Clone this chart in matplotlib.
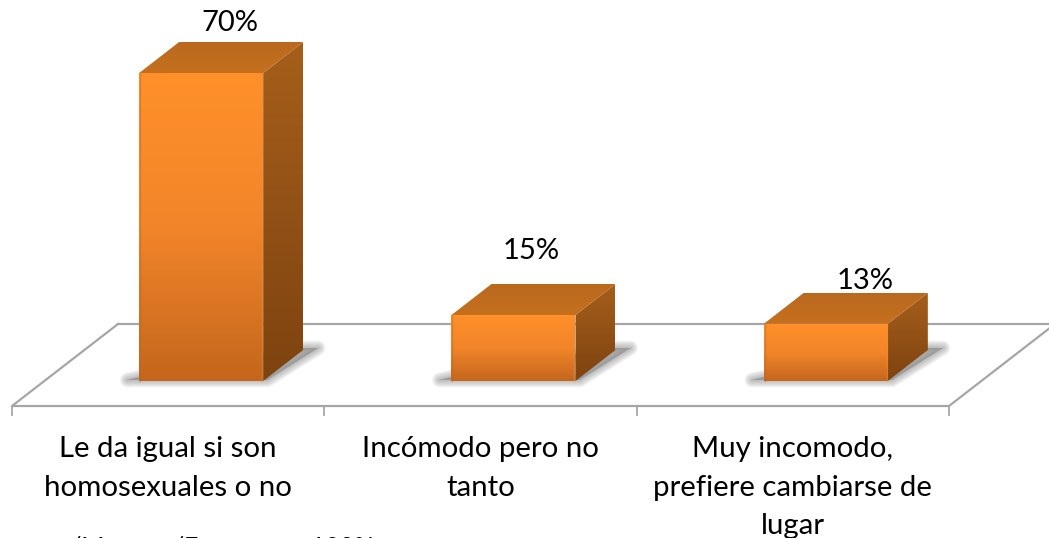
import numpy as np
import matplotlib
matplotlib.use("Agg")
import matplotlib.pyplot as plt
from matplotlib.colors import LinearSegmentedColormap
from matplotlib.patches import Polygon

categories = ["Le da igual si son\nhomosexuales o no", "Incómodo pero no\ntanto", "Muy incomodo,\nprefiere cambiarse de\nlugar"]
values = [70, 15, 13]
value_labels = ["70%", "15%", "13%"]
footnote = "/Muestra/Encuesta = 100%"

W, H = 1049, 538
PX = 312.33          # pixels per category
PY = 4.4             # pixels per percent
X0, Y0 = 12, 381     # pixel of category edge 0 / value 0

plt.rcParams['font.family'] = ['Lato', 'DejaVu Sans']
fig = plt.figure(figsize=(W/100, H/100), dpi=100)
ax = fig.add_axes([0, 0, 1, 1])
ax.set_xlim(-X0/PX, (W-X0)/PX)
ax.set_ylim((Y0-H)/PY, Y0/PY)
ax.axis('off')

dx = lambda p: p/PX
dy = lambda p: p/PY

# floor
grey = '#a6a6a6'
fy = dy(-25)
bx, by = dx(106), dy(57)
ax.plot([bx, 0, 3, 3+bx*0.94], [by, fy, fy, fy+(by-fy)*0.94], color=grey, lw=1.6, zorder=1, solid_joinstyle='miter')
ax.plot([bx, 3+bx], [by, by], color=grey, lw=1.6, zorder=1)
for i in range(4):
    ax.plot([i, i], [fy, fy-dy(9)], color=grey, lw=1.3, zorder=1)

front_cm = LinearSegmentedColormap.from_list('f', ['#FF9029', '#F2852A', '#C4661C'])
side_cm = LinearSegmentedColormap.from_list('s', ['#A65F1B', '#7E4310'])
top_cm = LinearSegmentedColormap.from_list('t', ['#B9691E', '#C6701F'])

def grad(poly, cm, z=3):
    p = Polygon(poly, closed=True, fc='none', ec='none', transform=ax.transData)
    ax.add_patch(p)
    xs, ys = zip(*poly)
    g = np.linspace(0, 1, 256).reshape(-1, 1)
    im = ax.imshow(g, cmap=cm, aspect='auto', extent=[min(xs), max(xs), min(ys), max(ys)],
                   origin='upper', zorder=z, interpolation='bilinear')
    im.set_clip_path(p)

w = dx(124)
ddx, ddy = dx(40), dy(31)
label_xoff = [29, 18, 39]       # pixels right of the bar's centre
label_yoff = [50, 64, 43]       # pixels above the front top edge
for i, v in enumerate(values):
    c = i + 0.5 + dx(33)
    l, r = c - w/2, c + w/2
    sh = [(l-dx(12), dy(1)), (r+dx(4), dy(1)), (r+ddx+dx(15), ddy+dy(2)), (r+ddx, ddy+dy(2)), (l, dy(4))]
    for k in range(12, -1, -1):
        ax.add_patch(Polygon(sh, closed=True, fc='#808080', ec='#808080', lw=k*0.9+0.1, alpha=0.05,
                             zorder=2, joinstyle='round'))
    grad([(l, 0), (r, 0), (r, v), (l, v)], front_cm)
    ax.plot([r-dx(1), r-dx(1)], [0, v], color='#E8963E', lw=1, alpha=.4, zorder=4)
    ax.plot([l+dx(1), l+dx(1)], [0, v], color='#B8651E', lw=1, alpha=.4, zorder=4)
    grad([(r, 0), (r+ddx, ddy), (r+ddx, v+ddy), (r, v)], side_cm)
    grad([(l, v), (r, v), (r+ddx, v+ddy), (l+ddx, v+ddy)], top_cm)
    ax.text(c + dx(label_xoff[i]), v + dy(label_yoff[i]), value_labels[i], ha='center', va='center',
            fontsize=21, color='black', zorder=6)
    ax.text(i + 0.5, fy - dy(30), categories[i], ha='center', va='top', fontsize=21.2, color='black',
            linespacing=1.6, zorder=6)

ax.text(dx(58), (Y0-535.5)/PY, footnote, ha='left', va='top', fontsize=18, color='black', clip_on=True)

fig.savefig('out.png', dpi=100)
